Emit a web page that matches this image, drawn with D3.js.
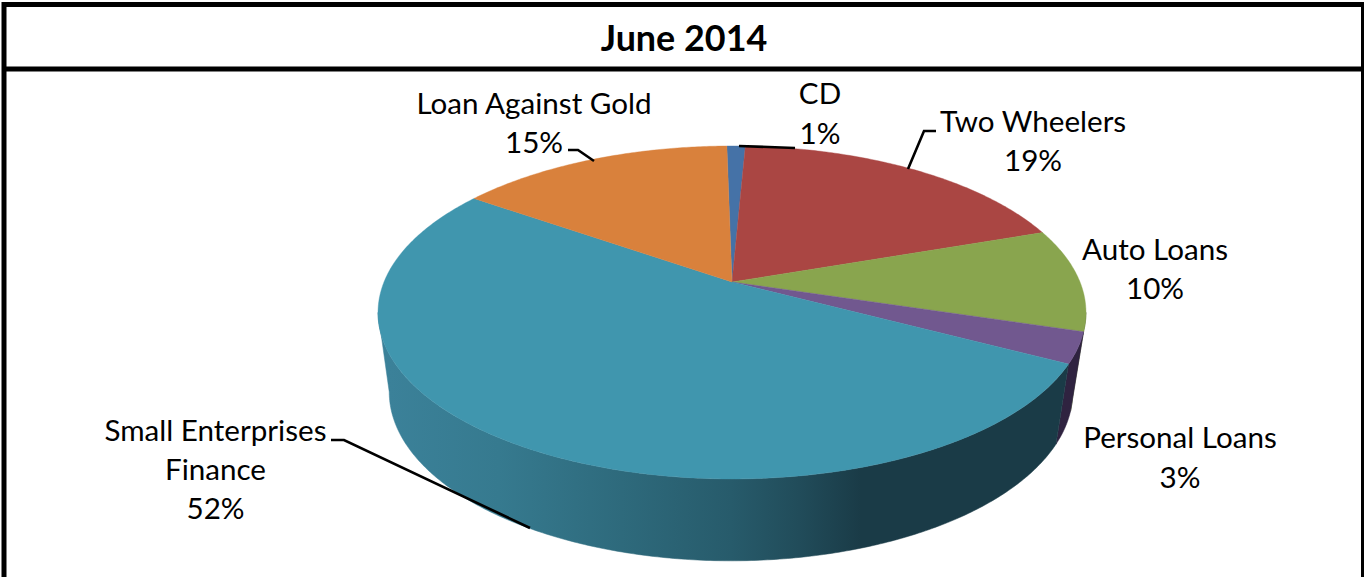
<!DOCTYPE html>
<html>
<head>
<meta charset="utf-8">
<script src="https://cdn.jsdelivr.net/npm/d3@7"></script>
<style>
  html, body { margin: 0; padding: 0; background: #fff; overflow: hidden; }
  svg { display: block; }
  text { font-family: Lato, "Open Sans", sans-serif; fill: #000; }
</style>
</head>
<body>
<svg id="chart" width="1364" height="577"></svg>
<script>
const titleText = "June 2014";
const categories = ["CD", "Two Wheelers", "Auto Loans", "Personal Loans", "Small Enterprises Finance", "Loan Against Gold"];
const shares = [1, 19, 10, 3, 52, 15];
const topColours = ["#4572a7", "#aa4643", "#89a54e", "#71588f", "#4096ae", "#d9813c"];
const wallColours = ["#2d4a6e", "#6e2d2b", "#58693a", "#2f2340", "#4096ae", "#8f5627"];

// Label lines of text with their anchor positions, and their leader polylines.
const labelLines = [
  [["CD", 820, 104], ["1%", 820, 144]],
  [["Two Wheelers", 1033, 132], ["19%", 1033, 171]],
  [["Auto Loans", 1155, 260], ["10%", 1155, 299]],
  [["Personal Loans", 1180, 448], ["3%", 1180, 488]],
  [["Small Enterprises", 215.5, 441], ["Finance", 215.5, 480], ["52%", 215.5, 519]],
  [["Loan Against Gold", 534, 114], ["15%", 534, 153]]
];
const leaders = [
  [[795, 148], [739, 146]],
  [[936, 131], [924, 131], [908, 169]],
  null,
  null,
  [[331, 440], [344, 440], [530, 528]],
  [[568, 150], [578, 150], [594, 161]]
];

const svg = d3.select("#chart");
const startAngle = -1 * Math.PI / 180;

// Slice angles run clockwise from the back of the disc.
const pieLayout = d3.pie().sort(null).value(d => d)
  .startAngle(startAngle).endAngle(startAngle + 2 * Math.PI);
const slices = pieLayout(shares);

// Perspective mapping of the unit circle onto the upper face and the lower rim.
const tilt = -0.183;
const upperFace = { cx: 732, r: 348, a: 109.3, b: 282 };
const lowerRim = { cx: 731, r: 336, a: 97.2, b: 361 };
function project(level, angle) {
  const u = Math.sin(angle), v = -Math.cos(angle), w = 1 + tilt * v;
  return [level.cx + level.r * u / w, (level.a * v + level.b) / w];
}
function arcSamples(level, a0, a1) {
  const n = Math.max(2, Math.ceil(Math.abs(a1 - a0) / 0.01));
  return d3.range(n + 1).map(i => project(level, a0 + (a1 - a0) * i / n));
}
const outline = d3.line();

// The rim is visible between the two horizontal extremes of the projected circle.
const visibleFrom = Math.acos(tilt);
const visibleTo = 2 * Math.PI - visibleFrom;

const defs = svg.append("defs");
const shade = defs.append("linearGradient").attr("id", "wallShade")
  .attr("gradientUnits", "userSpaceOnUse")
  .attr("x1", 389).attr("x2", 1073).attr("y1", 0).attr("y2", 0);
[[0, "#3b8199"], [0.16, "#367a8f"], [0.34, "#2e6a7c"], [0.5, "#275b6b"], [0.6, "#214c5a"], [0.69, "#1a3b47"], [1, "#1a3b47"]]
  .forEach(([o, c]) => shade.append("stop").attr("offset", o).attr("stop-color", c));

// Side wall
slices.forEach((s, i) => {
  const a0 = Math.max(s.startAngle, visibleFrom), a1 = Math.min(s.endAngle, visibleTo);
  if (a1 <= a0) return;
  const pts = arcSamples(upperFace, a0, a1).concat(arcSamples(lowerRim, a1, a0));
  svg.append("path").attr("d", outline(pts) + "Z")
    .attr("fill", i === 4 ? "url(#wallShade)" : wallColours[i])
    .attr("stroke", i === 4 ? "url(#wallShade)" : wallColours[i]).attr("stroke-width", 0.5);
});

// Upper face
const hubPoint = [upperFace.cx, upperFace.b];
slices.forEach((s, i) => {
  const pts = [hubPoint].concat(arcSamples(upperFace, s.startAngle, s.endAngle));
  svg.append("path").attr("d", outline(pts) + "Z")
    .attr("fill", topColours[i]).attr("stroke", topColours[i]).attr("stroke-width", 0.4);
});

// Leader lines
leaders.forEach(pts => {
  if (!pts) return;
  svg.append("path").attr("d", outline(pts)).attr("fill", "none")
    .attr("stroke", "#000").attr("stroke-width", 2.6);
});

// Data labels
labelLines.forEach(lines => lines.forEach(([t, x, y]) => {
  svg.append("text").attr("x", x).attr("y", y).attr("text-anchor", "middle")
    .attr("font-size", 29.6).text(t);
}));

// Frame and title strip
svg.append("path").attr("d", "M4,577V4.5H1363.5V577").attr("fill", "none").attr("stroke", "#000").attr("stroke-width", 5);
svg.append("line").attr("x1", 2).attr("x2", 1364).attr("y1", 69).attr("y2", 69).attr("stroke", "#000").attr("stroke-width", 5);
svg.append("text").attr("x", 684).attr("y", 50.5).attr("text-anchor", "middle")
  .attr("font-size", 35.9).attr("font-weight", 700).text(titleText);
</script>
</body>
</html>
